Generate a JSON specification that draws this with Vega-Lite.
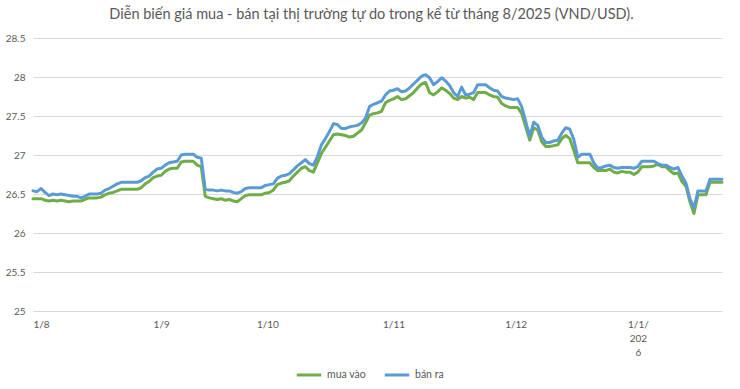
{
  "$schema": "https://vega.github.io/schema/vega-lite/v6.json",
  "autosize": {"type": "none"},
  "width": 689,
  "height": 273,
  "padding": {"left": 33, "top": 38, "right": 18, "bottom": 78},
  "background": "white",
  "config": {"view": {"stroke": null}, "font": "Lato"},
  "title": {"text": "Diễn biến giá mua - bán tại thị trường tự do trong kể từ tháng 8/2025 (VND/USD).", "fontSize": 14.5, "fontWeight": "normal", "color": "#595959", "anchor": "middle", "offset": 11, "dx": -6, "font": "Lato"},
  "data": {"values": [
    {"i":0,"mua vào":26.44,"bán ra":26.54},{"i":1,"mua vào":26.44,"bán ra":26.53},{"i":2,"mua vào":26.44,"bán ra":26.57},{"i":3,"mua vào":26.42,"bán ra":26.52},
    {"i":4,"mua vào":26.41,"bán ra":26.48},{"i":5,"mua vào":26.42,"bán ra":26.5},{"i":6,"mua vào":26.41,"bán ra":26.49},{"i":7,"mua vào":26.42,"bán ra":26.5},
    {"i":8,"mua vào":26.41,"bán ra":26.49},{"i":9,"mua vào":26.4,"bán ra":26.48},{"i":10,"mua vào":26.41,"bán ra":26.47},{"i":11,"mua vào":26.41,"bán ra":26.47},
    {"i":12,"mua vào":26.41,"bán ra":26.45},{"i":13,"mua vào":26.43,"bán ra":26.47},{"i":14,"mua vào":26.45,"bán ra":26.5},{"i":15,"mua vào":26.45,"bán ra":26.5},
    {"i":16,"mua vào":26.45,"bán ra":26.5},{"i":17,"mua vào":26.46,"bán ra":26.51},{"i":18,"mua vào":26.49,"bán ra":26.55},{"i":19,"mua vào":26.51,"bán ra":26.57},
    {"i":20,"mua vào":26.52,"bán ra":26.6},{"i":21,"mua vào":26.54,"bán ra":26.63},{"i":22,"mua vào":26.56,"bán ra":26.65},{"i":23,"mua vào":26.56,"bán ra":26.65},
    {"i":24,"mua vào":26.56,"bán ra":26.65},{"i":25,"mua vào":26.56,"bán ra":26.65},{"i":26,"mua vào":26.56,"bán ra":26.65},{"i":27,"mua vào":26.58,"bán ra":26.67},
    {"i":28,"mua vào":26.63,"bán ra":26.71},{"i":29,"mua vào":26.66,"bán ra":26.73},{"i":30,"mua vào":26.71,"bán ra":26.78},{"i":31,"mua vào":26.73,"bán ra":26.82},
    {"i":32,"mua vào":26.74,"bán ra":26.83},{"i":33,"mua vào":26.79,"bán ra":26.87},{"i":34,"mua vào":26.82,"bán ra":26.9},{"i":35,"mua vào":26.83,"bán ra":26.91},
    {"i":36,"mua vào":26.83,"bán ra":26.92},{"i":37,"mua vào":26.91,"bán ra":27.0},{"i":38,"mua vào":26.92,"bán ra":27.01},{"i":39,"mua vào":26.92,"bán ra":27.01},
    {"i":40,"mua vào":26.92,"bán ra":27.01},{"i":41,"mua vào":26.87,"bán ra":26.97},{"i":42,"mua vào":26.85,"bán ra":26.96},{"i":43,"mua vào":26.47,"bán ra":26.56},
    {"i":44,"mua vào":26.45,"bán ra":26.55},{"i":45,"mua vào":26.44,"bán ra":26.55},{"i":46,"mua vào":26.43,"bán ra":26.54},{"i":47,"mua vào":26.44,"bán ra":26.55},
    {"i":48,"mua vào":26.42,"bán ra":26.54},{"i":49,"mua vào":26.43,"bán ra":26.54},{"i":50,"mua vào":26.41,"bán ra":26.52},{"i":51,"mua vào":26.4,"bán ra":26.51},
    {"i":52,"mua vào":26.44,"bán ra":26.53},{"i":53,"mua vào":26.48,"bán ra":26.57},{"i":54,"mua vào":26.49,"bán ra":26.58},{"i":55,"mua vào":26.49,"bán ra":26.58},
    {"i":56,"mua vào":26.49,"bán ra":26.58},{"i":57,"mua vào":26.49,"bán ra":26.58},{"i":58,"mua vào":26.51,"bán ra":26.61},{"i":59,"mua vào":26.52,"bán ra":26.62},
    {"i":60,"mua vào":26.55,"bán ra":26.63},{"i":61,"mua vào":26.62,"bán ra":26.7},{"i":62,"mua vào":26.64,"bán ra":26.73},{"i":63,"mua vào":26.65,"bán ra":26.74},
    {"i":64,"mua vào":26.67,"bán ra":26.76},{"i":65,"mua vào":26.73,"bán ra":26.81},{"i":66,"mua vào":26.78,"bán ra":26.86},{"i":67,"mua vào":26.83,"bán ra":26.9},
    {"i":68,"mua vào":26.85,"bán ra":26.94},{"i":69,"mua vào":26.8,"bán ra":26.89},{"i":70,"mua vào":26.78,"bán ra":26.87},{"i":71,"mua vào":26.9,"bán ra":26.98},
    {"i":72,"mua vào":27.02,"bán ra":27.13},{"i":73,"mua vào":27.1,"bán ra":27.21},{"i":74,"mua vào":27.18,"bán ra":27.3},{"i":75,"mua vào":27.26,"bán ra":27.4},
    {"i":76,"mua vào":27.27,"bán ra":27.39},{"i":77,"mua vào":27.26,"bán ra":27.34},{"i":78,"mua vào":27.25,"bán ra":27.34},{"i":79,"mua vào":27.23,"bán ra":27.36},
    {"i":80,"mua vào":27.24,"bán ra":27.37},{"i":81,"mua vào":27.28,"bán ra":27.38},{"i":82,"mua vào":27.32,"bán ra":27.41},{"i":83,"mua vào":27.41,"bán ra":27.47},
    {"i":84,"mua vào":27.51,"bán ra":27.62},{"i":85,"mua vào":27.53,"bán ra":27.65},{"i":86,"mua vào":27.54,"bán ra":27.67},{"i":87,"mua vào":27.56,"bán ra":27.69},
    {"i":88,"mua vào":27.67,"bán ra":27.77},{"i":89,"mua vào":27.7,"bán ra":27.82},{"i":90,"mua vào":27.72,"bán ra":27.83},{"i":91,"mua vào":27.75,"bán ra":27.85},
    {"i":92,"mua vào":27.71,"bán ra":27.81},{"i":93,"mua vào":27.72,"bán ra":27.82},{"i":94,"mua vào":27.76,"bán ra":27.86},{"i":95,"mua vào":27.8,"bán ra":27.91},
    {"i":96,"mua vào":27.86,"bán ra":27.96},{"i":97,"mua vào":27.91,"bán ra":28.01},{"i":98,"mua vào":27.93,"bán ra":28.03},{"i":99,"mua vào":27.8,"bán ra":27.99},
    {"i":100,"mua vào":27.77,"bán ra":27.9},{"i":101,"mua vào":27.81,"bán ra":27.94},{"i":102,"mua vào":27.86,"bán ra":27.99},{"i":103,"mua vào":27.83,"bán ra":27.95},
    {"i":104,"mua vào":27.79,"bán ra":27.89},{"i":105,"mua vào":27.73,"bán ra":27.8},{"i":106,"mua vào":27.71,"bán ra":27.75},{"i":107,"mua vào":27.75,"bán ra":27.87},
    {"i":108,"mua vào":27.73,"bán ra":27.77},{"i":109,"mua vào":27.74,"bán ra":27.78},{"i":110,"mua vào":27.71,"bán ra":27.8},{"i":111,"mua vào":27.8,"bán ra":27.9},
    {"i":112,"mua vào":27.8,"bán ra":27.9},{"i":113,"mua vào":27.8,"bán ra":27.9},{"i":114,"mua vào":27.77,"bán ra":27.86},{"i":115,"mua vào":27.75,"bán ra":27.83},
    {"i":116,"mua vào":27.74,"bán ra":27.82},{"i":117,"mua vào":27.66,"bán ra":27.75},{"i":118,"mua vào":27.63,"bán ra":27.73},{"i":119,"mua vào":27.61,"bán ra":27.72},
    {"i":120,"mua vào":27.61,"bán ra":27.71},{"i":121,"mua vào":27.61,"bán ra":27.72},{"i":122,"mua vào":27.53,"bán ra":27.62},{"i":123,"mua vào":27.36,"bán ra":27.43},
    {"i":124,"mua vào":27.19,"bán ra":27.24},{"i":125,"mua vào":27.35,"bán ra":27.42},{"i":126,"mua vào":27.32,"bán ra":27.38},{"i":127,"mua vào":27.17,"bán ra":27.23},
    {"i":128,"mua vào":27.11,"bán ra":27.16},{"i":129,"mua vào":27.11,"bán ra":27.16},{"i":130,"mua vào":27.12,"bán ra":27.18},{"i":131,"mua vào":27.13,"bán ra":27.19},
    {"i":132,"mua vào":27.21,"bán ra":27.28},{"i":133,"mua vào":27.25,"bán ra":27.35},{"i":134,"mua vào":27.21,"bán ra":27.33},{"i":135,"mua vào":27.06,"bán ra":27.2},
    {"i":136,"mua vào":26.9,"bán ra":26.97},{"i":137,"mua vào":26.9,"bán ra":27.01},{"i":138,"mua vào":26.9,"bán ra":27.01},{"i":139,"mua vào":26.9,"bán ra":27.01},
    {"i":140,"mua vào":26.84,"bán ra":26.9},{"i":141,"mua vào":26.8,"bán ra":26.83},{"i":142,"mua vào":26.8,"bán ra":26.84},{"i":143,"mua vào":26.8,"bán ra":26.86},
    {"i":144,"mua vào":26.82,"bán ra":26.87},{"i":145,"mua vào":26.78,"bán ra":26.84},{"i":146,"mua vào":26.77,"bán ra":26.83},{"i":147,"mua vào":26.79,"bán ra":26.84},
    {"i":148,"mua vào":26.78,"bán ra":26.84},{"i":149,"mua vào":26.78,"bán ra":26.84},{"i":150,"mua vào":26.75,"bán ra":26.83},{"i":151,"mua vào":26.78,"bán ra":26.85},
    {"i":152,"mua vào":26.85,"bán ra":26.92},{"i":153,"mua vào":26.85,"bán ra":26.92},{"i":154,"mua vào":26.85,"bán ra":26.92},{"i":155,"mua vào":26.86,"bán ra":26.92},
    {"i":156,"mua vào":26.88,"bán ra":26.89},{"i":157,"mua vào":26.85,"bán ra":26.87},{"i":158,"mua vào":26.85,"bán ra":26.87},{"i":159,"mua vào":26.8,"bán ra":26.84},
    {"i":160,"mua vào":26.76,"bán ra":26.82},{"i":161,"mua vào":26.77,"bán ra":26.84},{"i":162,"mua vào":26.66,"bán ra":26.73},{"i":163,"mua vào":26.6,"bán ra":26.64},
    {"i":164,"mua vào":26.4,"bán ra":26.44},{"i":165,"mua vào":26.25,"bán ra":26.32},{"i":166,"mua vào":26.49,"bán ra":26.54},{"i":167,"mua vào":26.49,"bán ra":26.54},
    {"i":168,"mua vào":26.49,"bán ra":26.54},{"i":169,"mua vào":26.65,"bán ra":26.69},{"i":170,"mua vào":26.65,"bán ra":26.69},{"i":171,"mua vào":26.65,"bán ra":26.69},
    {"i":172,"mua vào":26.65,"bán ra":26.69}
  ]},
  "transform": [{"fold": ["mua vào", "bán ra"], "as": ["loai", "gia"]}],
  "mark": {"type": "line", "strokeWidth": 3, "strokeJoin": "round", "strokeCap": "round"},
  "encoding": {
    "x": {"field": "i", "type": "quantitative", "scale": {"domain": [0, 172], "nice": false, "zero": false},
      "axis": {"title": null, "grid": false, "domain": false, "ticks": false, "values": [0, 32, 58.5, 90, 120.5, 151],
        "labelExpr": "datum.value == 0 ? '1/8' : datum.value == 32 ? '1/9' : datum.value == 58.5 ? '1/10' : datum.value == 90 ? '1/11' : datum.value == 120.5 ? '1/12' : ['1/1/', '202', '6']",
        "labelColor": "#595959", "labelFontSize": 10, "labelPadding": 8, "labelFont": "Lato", "labelLineHeight": 14}},
    "y": {"field": "gia", "type": "quantitative", "scale": {"domain": [25, 28.5], "nice": false, "zero": false},
      "axis": {"title": null, "domain": false, "ticks": false, "values": [25, 25.5, 26, 26.5, 27, 27.5, 28, 28.5], "format": ".1~f",
        "gridColor": "#d9d9d9", "gridWidth": 1, "labelColor": "#595959", "labelFontSize": 10, "labelPadding": 8, "labelFont": "Lato"}},
    "color": {"field": "loai", "type": "nominal", "sort": ["mua vào", "bán ra"],
      "scale": {"domain": ["mua vào", "bán ra"], "range": ["#70AD47", "#5B9BD5"]},
      "legend": {"title": null, "orient": "none", "legendX": 262, "legendY": 323, "direction": "horizontal",
        "symbolType": "stroke", "symbolStrokeWidth": 3, "symbolSize": 600, "labelColor": "#595959", "labelFontSize": 10.5, "labelFont": "Lato", "columnPadding": 12, "symbolOffset": 0}}
  }
}
